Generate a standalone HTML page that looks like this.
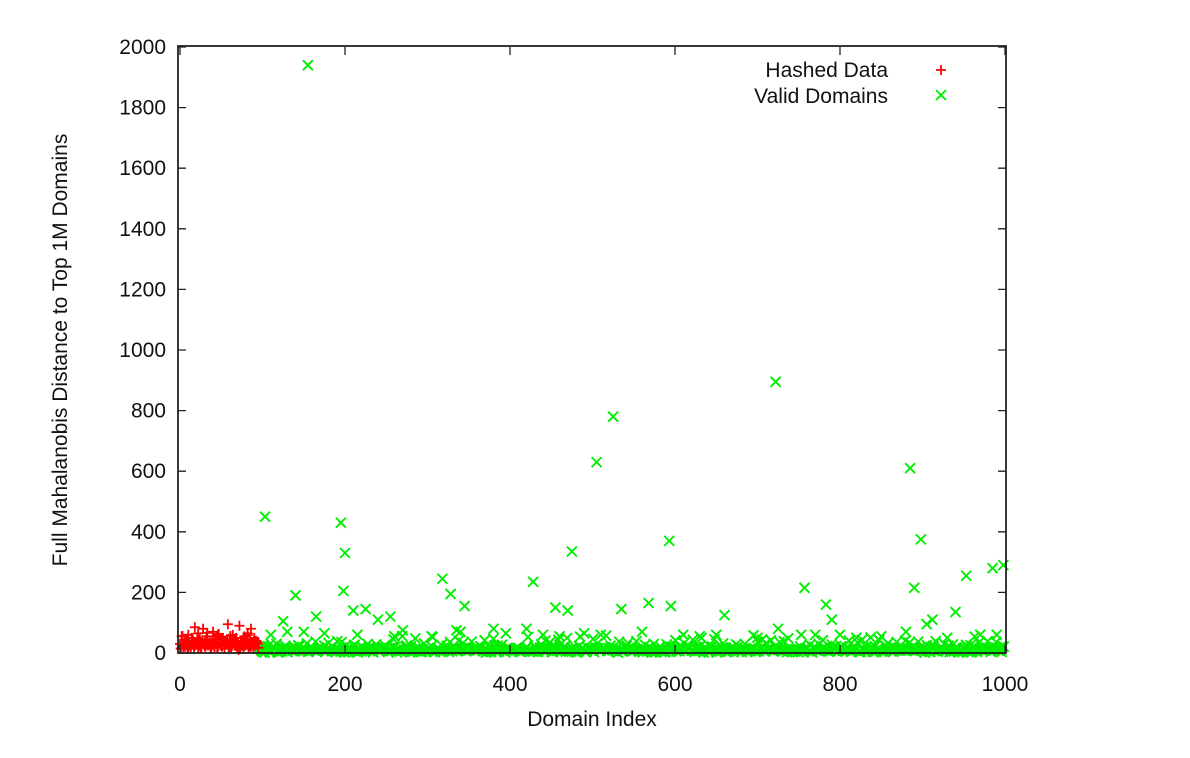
<!DOCTYPE html>
<html><head><meta charset="utf-8"><style>
html,body{margin:0;padding:0;background:#fff;width:1190px;height:758px;overflow:hidden}
svg text{font-family:"Liberation Sans",Arial,sans-serif;fill:#111}
</style></head><body>
<svg id="chart" width="1190" height="758" xmlns="http://www.w3.org/2000/svg"></svg>
<script>
const xTicks=[0,200,400,600,800,1000];
const yTicks=[0,200,400,600,800,1000,1200,1400,1600,1800,2000];
const hashedX=[0,2,4,6,8,10,12,14,16,18,20,22,24,26,28,30,32,34,36,38,40,42,44,46,48,50,52,54,56,58,60,62,64,66,68,70,72,74,76,78,80,82,84,86,88,90,92,94,1,5,9,13,17,21,25,29,33,37,41,45,49,53,57,61,65,69,73,77,81,85,89,93];
const hashedY=[30,55,20,45,35,60,25,50,40,85,30,65,45,20,80,35,55,25,40,30,70,20,45,60,35,25,50,40,30,95,45,20,60,35,50,25,90,40,30,55,45,65,25,80,35,50,40,30,15,25,40,20,35,50,25,30,45,20,35,55,25,40,30,20,45,35,25,50,30,40,25,35];
const validOutX=[103,155,140,165,195,198,200,210,225,125,255,318,328,345,335,428,455,475,470,505,525,535,568,593,595,660,722,757,783,790,885,890,898,912,940,953,985,998,800,380,240,110,130,175,215,260,305,340,395,420,440,460,490,510,560,610,630,650,700,725,770,820,850,880,905,930,970,990,270,150];
const validOutY=[450,1940,190,120,430,205,330,140,145,105,120,245,195,155,75,235,150,335,140,630,780,145,165,370,155,125,895,215,160,110,610,215,375,110,135,255,280,290,60,80,110,60,70,65,60,55,55,70,65,80,60,55,65,60,70,60,55,60,50,80,60,50,55,70,95,50,60,60,75,70];
const validLowY=[10,25,5,18,30,8,15,22,3,12,28,6,20,14,35,9,24,4,16,26,11,7,32,19,13,2,27,17,10,23,5,40,15,21,8,29,12,18,6,25,14,33,9,20,3,16,28,11,22,7,36,13,19,4,26,15,10,24,8,31,17,6,21,12,27,9,18,14,38,5,23,16,11,29,7,20,13,25,10,34,6,19,15,22,8,28,12,17,4,26,11,21,9,30,14,18,7,24,13,37,5,20,16,27,10,15,23,8,32,12,19,6,25,14,21,9,28,11,17,4,35,13,22,8,26,15,18,10,29,6,20,12,24,16,33,7,19,11,27,9,14,22,5,30,13,18,8,25,17,21,10,36,6,15,23,12,28,9,19,14,26,7,31,11,20,16,24,8,18,13,39,10];
const svg=document.getElementById('chart');
const NS='http://www.w3.org/2000/svg';
const L=180,R=1005,T=47,B=653;
const sx=v=>L+(v-0)/1000*(R-L);
const sy=v=>B-(v-0)/2000*(B-T);
function mk(t,a){const e=document.createElementNS(NS,t);for(const k in a)e.setAttribute(k,a[k]);svg.appendChild(e);return e;}
function plus(x,y,name){const g=mk('path',{d:`M${x-5} ${y}H${x+5}M${x} ${y-5}V${y+5}`,stroke:'#ff0000','stroke-width':1.8,fill:'none'});

}
function cross(x,y,name){const g=mk('path',{d:`M${x-5} ${y-5}L${x+5} ${y+5}M${x-5} ${y+5}L${x+5} ${y-5}`,stroke:'#00ee00','stroke-width':1.9,fill:'none'});

}
const n=validLowY.length, lowStep=(1000-96)/n;
for(let k=0;k<4;k++){
  for(let i=0;i<n;i++){
    const v=validLowY[(i*3+k*41)%n];
    cross(sx(96+i*lowStep+k*1.3),sy(k===0?v*1.5:v*0.6),'valid-point');
  }
}
for(let i=0;i<validOutX.length;i++){cross(sx(validOutX[i]),sy(validOutY[i]),'valid-point');}
for(let i=0;i<hashedX.length;i++){plus(sx(hashedX[i]),sy(hashedY[i]),'hashed-point');}
for(let i=0;i<hashedX.length;i++){plus(sx(hashedX[i]+1),sy(hashedY[(i+13)%hashedY.length]*0.7),'hashed-point');}
const f=mk('rect',{x:L-2,y:T-1,width:R-L+3,height:B-T+1,fill:'none',stroke:'#222','stroke-width':1.8});


for(const t of xTicks){const x=sx(t);
mk('path',{d:`M${x} ${B}v-8M${x} ${T}v8`,stroke:'#222','stroke-width':1.3});
const tx=mk('text',{x:x,y:B+38,'text-anchor':'middle','font-size':21});tx.textContent=t;

}
for(const t of yTicks){const y=sy(t);
mk('path',{d:`M${L-2} ${y}h8M${R+1} ${y}h-8`,stroke:'#222','stroke-width':1.3});
const tx=mk('text',{x:L-14,y:y+7,'text-anchor':'end','font-size':21});tx.textContent=t;

}
const xl=mk('text',{x:592,y:726,'text-anchor':'middle','font-size':21});xl.textContent='Domain Index';


const yl=mk('text',{x:0,y:0,'text-anchor':'middle','font-size':21,transform:'translate(67,350) rotate(-90)'});yl.textContent='Full Mahalanobis Distance to Top 1M Domains';


const l1=mk('text',{x:888,y:77,'text-anchor':'end','font-size':21});l1.textContent='Hashed Data';


const l2=mk('text',{x:888,y:103,'text-anchor':'end','font-size':21});l2.textContent='Valid Domains';


plus(941,70,'legend-hashed-marker');
cross(941,95,'legend-valid-marker');
</script>
</body></html>
